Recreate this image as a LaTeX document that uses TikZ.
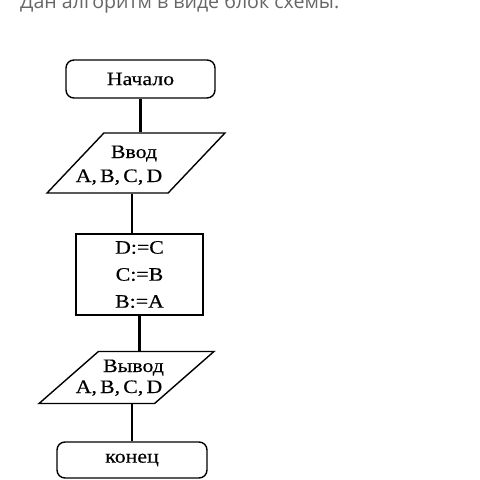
\documentclass[tikz,border=0pt]{standalone}
\usepackage{fontspec}
\setmainfont{Liberation Serif}[FakeStretch=1.15, FakeBold=0.4]
\newfontfamily\titlefont{Open Sans}
\usetikzlibrary{shapes.geometric}

\begin{document}
\begin{tikzpicture}[x=1pt, y=-1pt,
  font=\fontsize{19}{19}\selectfont,
  termnode/.style={draw, rectangle, rounded corners=8pt, line width=1.4pt, inner sep=0pt},
  ionode/.style={draw, trapezium, trapezium stretches=true, line width=1.4pt, inner sep=2pt},
  iotext/.style={inner sep=0pt, anchor=base},
  procnode/.style={draw, rectangle, line width=1.4pt, inner sep=0pt, align=center,
    font=\fontsize{19}{27}\selectfont},
  link/.style={line width=2.4pt}
]
  \clip (0,0) rectangle (480,480);

  % title
  \node[anchor=base west, text=black!60, font=\titlefont\fontsize{19.6}{19.6}\selectfont, inner sep=0pt]
    (title) at (20,8) {Дан алгоритм в виде блок схемы.};

  % blocks
  \node[termnode, minimum width=149pt, minimum height=38pt] (start) at (140.5,79) {Начало};

  \node[ionode, trapezium left angle=48.5, trapezium right angle=131.5,
    minimum width=178pt, minimum height=60pt] (in) at (136,163) {};
  \node[iotext] (inhead) at (134,158) {Ввод};
  \node[iotext] (inargs) at (119,182) {A,\,B,\,C,\,D};

  \node[procnode, minimum width=127pt, minimum height=81pt] (proc) at (139.5,274.5)
    {D:=C\\C:=B\\B:=A};

  \node[ionode, trapezium left angle=43.4, trapezium right angle=136.6,
    minimum width=175pt, minimum height=52pt] (out) at (126.5,377.5) {};
  \node[iotext] (outhead) at (133.5,372) {Вывод};
  \node[iotext] (outargs) at (119,393) {A,\,B,\,C,\,D};

  \node[termnode, minimum width=150pt, minimum height=36pt] (end) at (132,460) {конец};

  % links
  \draw[link] (start.south) -- (start.south |- in.north);
  \draw[link] ([xshift=-4pt]in.south) -- ([xshift=-4pt]in.south |- proc.north);
  \draw[link] (proc.south) -- (proc.south |- out.north);
  \draw[link] (end.north) -- (end.north |- out.south);
\end{tikzpicture}
\end{document}
